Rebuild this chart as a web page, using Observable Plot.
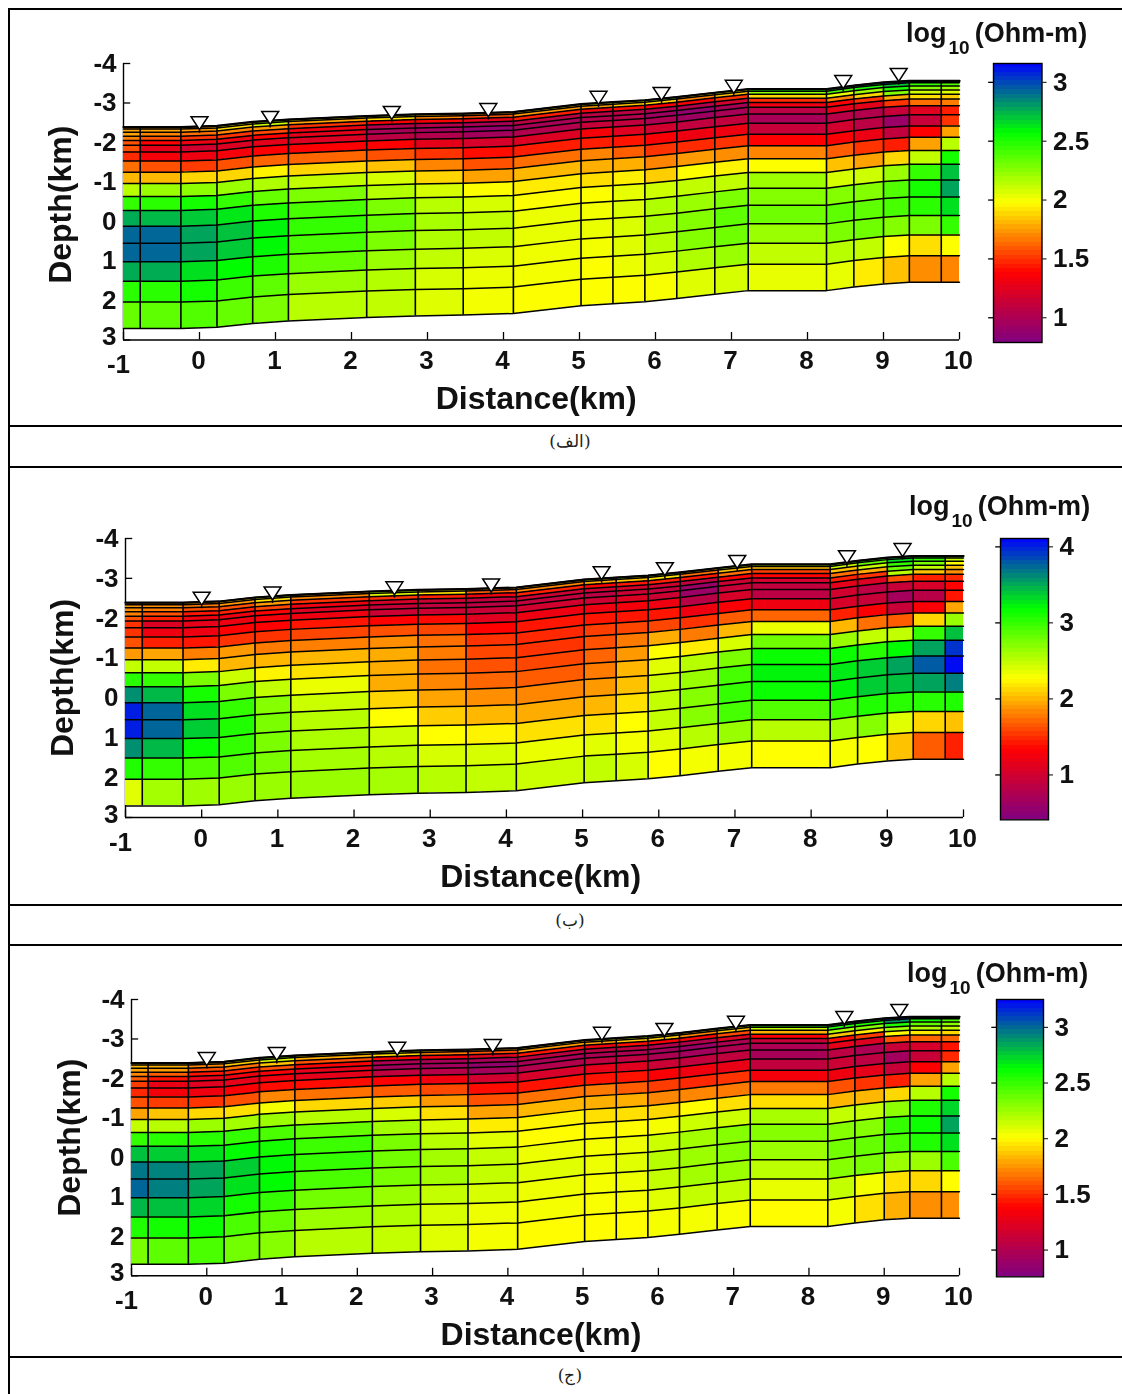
<!DOCTYPE html>
<html><head><meta charset="utf-8">
<script src="https://cdn.jsdelivr.net/npm/d3@7"></script>
<script src="https://cdn.jsdelivr.net/npm/@observablehq/plot@0.6"></script>
<style>
html,body{margin:0;padding:0;background:#fff;}
#page{position:relative;width:1122px;height:1394px;overflow:hidden;font-family:"Liberation Sans",Arial,sans-serif;}
#page svg{position:absolute;background:transparent;overflow:visible;font-family:"Liberation Sans",Arial,sans-serif;filter:blur(0.3px);}
.hl{position:absolute;left:8px;right:0;height:2px;background:#000;}
.vl{position:absolute;left:8px;top:8px;bottom:0;width:2px;background:#000;}
.cap{position:absolute;left:470px;width:200px;text-align:center;font-family:"DejaVu Serif","Liberation Serif",serif;font-size:17px;color:#222;direction:rtl;}
.ttl{position:absolute;font-weight:700;font-size:27px;color:#111;line-height:30px;white-space:nowrap;filter:blur(0.3px);}
.ttl span{font-size:19px;position:relative;top:12px;margin:0 5px 0 2px;}
</style></head><body><div id="page"></div>
<script>
// mesh column edges (km) and surface elevation at each edge (km on the depth axis)
const edges = [-1,-0.78,-0.245,0.23,0.70,1.17,2.20,2.84,3.47,4.13,5.02,5.44,5.86,6.28,6.78,7.22,8.25,8.61,9.0,9.34,9.76,10];
const surface = [-2.39,-2.39,-2.39,-2.42,-2.52,-2.58,-2.67,-2.71,-2.73,-2.77,-2.97,-3.02,-3.07,-3.15,-3.26,-3.35,-3.35,-3.44,-3.52,-3.56,-3.56,-3.56];
// layer boundaries below the surface (km)
const layerDepths = [0,0.05,0.13,0.23,0.34,0.46,0.63,0.86,1.14,1.43,1.76,2.11,2.51,2.94,3.41,3.90,4.43,5.10];
// receiver stations
const stationX = [0,0.93,2.53,3.8,5.25,6.08,7.03,8.47,9.2];
const stationY = [-2.49,-2.62,-2.75,-2.82,-3.13,-3.23,-3.41,-3.53,-3.71];
const xTicks = [-1,0,1,2,3,4,5,6,7,8,9,10];
const yTicks = [-4,-3,-2,-1,0,1,2,3];
const palette = ["#800080","#ff0000","#ffff00","#00ff00","#0000ff"];

// log10 resistivity: one list per mesh column, top layer first
const resistivityA = [
[1.76,1.76,1.76,1.68,1.57,1.57,1.48,1.64,1.81,2.14,2.45,2.76,2.92,2.92,2.76,2.47,2.33],
[1.76,1.76,1.69,1.57,1.38,1.26,1.34,1.57,1.81,2.21,2.47,2.73,2.92,2.92,2.76,2.47,2.35],
[1.74,1.74,1.64,1.50,1.31,1.17,1.31,1.52,1.88,2.24,2.52,2.69,2.78,2.78,2.64,2.52,2.38],
[1.98,1.90,1.69,1.50,1.31,1.22,1.34,1.57,1.88,2.21,2.45,2.62,2.71,2.69,2.57,2.43,2.33],
[2.21,2.09,1.74,1.55,1.38,1.26,1.38,1.62,1.95,2.16,2.33,2.50,2.59,2.58,2.50,2.35,2.28],
[1.98,1.76,1.50,1.31,1.26,1.22,1.38,1.62,1.88,2.12,2.28,2.40,2.45,2.40,2.33,2.21,2.14],
[2.12,1.90,1.38,1.03,0.98,1.07,1.38,1.57,1.83,2.07,2.15,2.28,2.33,2.28,2.21,2.15,2.12],
[1.86,1.69,1.36,1.03,0.96,1.03,1.26,1.50,1.69,1.88,2.07,2.14,2.18,2.16,2.12,2.07,2.05],
[1.74,1.57,1.26,0.98,0.88,0.96,1.19,1.41,1.57,1.76,1.98,2.07,2.12,2.12,2.06,2.02,2.00],
[1.93,1.74,1.45,1.07,0.98,1.03,1.22,1.45,1.64,1.81,1.93,1.98,2.02,2.03,2.01,2.00,1.98],
[2.05,1.74,1.31,1.07,1.03,1.12,1.34,1.45,1.69,1.79,1.90,1.98,2.00,2.02,2.00,1.98,1.98],
[2.12,1.83,1.41,1.07,1.03,1.10,1.24,1.43,1.60,1.79,1.94,2.03,2.06,2.06,2.05,2.02,1.98],
[2.16,1.88,1.36,1.03,0.93,1.00,1.17,1.36,1.50,1.69,1.86,2.09,2.16,2.18,2.14,2.07,1.99],
[1.90,1.69,1.36,1.03,0.88,0.93,1.10,1.31,1.48,1.74,1.98,2.12,2.21,2.26,2.26,2.16,2.05],
[2.12,1.83,1.50,1.17,0.98,0.98,1.10,1.31,1.50,1.71,1.95,2.12,2.28,2.35,2.31,2.21,2.07],
[2.54,2.24,1.88,1.48,1.31,1.07,0.98,1.12,1.38,1.69,1.98,2.20,2.26,2.31,2.21,2.12,2.03],
[2.80,2.40,2.02,1.69,1.38,1.26,1.05,1.17,1.36,1.60,1.83,2.07,2.26,2.35,2.28,2.14,2.03],
[2.80,2.50,2.21,1.88,1.50,1.26,1.03,1.07,1.29,1.50,1.76,2.09,2.26,2.35,2.31,2.12,1.93],
[3.02,2.69,2.50,2.26,1.79,1.50,1.12,0.91,1.10,1.45,1.88,2.21,2.38,2.40,2.26,1.98,1.83],
[2.57,2.45,2.26,2.09,1.90,1.64,1.24,1.12,1.38,1.76,2.12,2.45,2.52,2.47,2.28,1.90,1.71],
[2.50,2.38,2.21,2.05,1.86,1.67,1.45,1.50,1.76,2.14,2.52,2.71,2.78,2.64,2.45,1.98,1.69]
];
const resistivityB = [
[1.85,1.85,1.85,1.80,1.63,1.52,1.52,1.63,1.89,2.48,3.04,3.59,4.00,4.00,3.59,3.07,2.37],
[1.89,1.85,1.78,1.63,1.45,1.08,1.22,1.45,1.93,2.48,3.00,3.44,3.74,3.74,3.44,3.00,2.59],
[1.89,1.78,1.63,1.41,1.22,1.15,1.22,1.41,1.80,2.19,2.74,3.11,3.30,3.37,3.15,2.89,2.61],
[2.08,1.89,1.63,1.45,1.22,1.22,1.34,1.52,1.89,2.00,2.45,2.74,3.00,3.07,3.00,2.89,2.63],
[2.45,2.15,1.89,1.59,1.34,1.26,1.34,1.52,1.78,2.00,2.22,2.48,2.70,2.74,2.74,2.74,2.63],
[1.96,1.82,1.52,1.22,1.08,1.22,1.41,1.59,1.80,2.00,2.15,2.33,2.45,2.52,2.56,2.59,2.63],
[2.56,2.37,1.52,1.04,0.93,0.97,1.34,1.63,1.85,1.96,1.96,1.96,2.11,2.26,2.45,2.52,2.59],
[2.15,2.15,1.45,0.97,0.89,0.97,1.37,1.59,1.74,1.78,1.74,1.82,1.93,2.08,2.26,2.41,2.52],
[1.89,1.67,1.22,0.89,0.85,0.93,1.11,1.34,1.52,1.59,1.63,1.70,1.85,2.00,2.22,2.41,2.48],
[1.96,1.82,1.45,0.97,0.89,1.00,1.22,1.41,1.48,1.52,1.59,1.67,1.82,1.96,2.15,2.33,2.45],
[2.45,1.96,1.34,0.97,0.85,0.97,1.22,1.41,1.56,1.63,1.70,1.78,1.89,2.00,2.15,2.37,2.48],
[2.48,2.04,1.41,1.04,0.97,1.08,1.26,1.41,1.59,1.78,1.89,2.00,2.04,2.15,2.26,2.30,2.41],
[2.56,2.15,1.45,1.00,0.89,0.97,1.22,1.41,1.59,1.96,2.26,2.37,2.45,2.48,2.48,2.37,2.26],
[1.96,1.74,1.41,0.89,0.60,0.60,0.82,1.22,1.52,1.78,2.19,2.52,2.63,2.70,2.70,2.52,2.30],
[2.52,2.04,1.74,1.34,0.97,0.93,1.04,1.30,1.67,2.00,2.41,2.74,2.93,3.00,2.93,2.63,2.30],
[2.56,2.04,1.56,1.34,1.00,0.89,0.85,1.22,1.70,2.33,2.78,3.15,3.22,3.15,2.89,2.52,2.26],
[2.93,2.45,2.04,1.74,1.45,1.15,1.00,1.04,1.45,2.00,2.63,3.15,3.26,3.22,2.96,2.59,2.28],
[3.07,2.81,2.45,1.96,1.52,1.08,0.85,0.93,1.30,1.74,2.48,3.04,3.37,3.37,3.07,2.70,2.26],
[3.37,3.30,3.00,2.81,2.52,1.63,0.93,0.67,0.93,1.67,2.48,3.19,3.52,3.41,3.04,2.37,2.04],
[3.07,3.00,2.74,2.48,2.04,1.45,1.04,0.82,1.30,2.11,3.00,3.52,3.78,3.52,3.04,2.11,1.67],
[2.63,2.45,2.26,2.04,1.85,1.48,1.34,1.41,1.93,2.63,3.41,3.93,4.07,3.65,3.07,2.04,1.45]
];
const resistivityC = [
[1.86,1.83,1.78,1.71,1.61,1.53,1.48,1.58,1.78,2.15,2.50,2.78,2.96,3.00,2.80,2.55,2.33],
[1.86,1.81,1.76,1.61,1.43,1.28,1.33,1.53,1.86,2.18,2.53,2.75,2.93,2.94,2.78,2.58,2.40],
[1.81,1.71,1.58,1.43,1.26,1.23,1.31,1.51,1.91,2.25,2.53,2.70,2.85,2.85,2.73,2.60,2.45],
[2.00,1.88,1.66,1.46,1.31,1.26,1.36,1.58,1.93,2.23,2.50,2.63,2.75,2.70,2.58,2.45,2.35],
[2.25,2.10,1.86,1.58,1.36,1.31,1.41,1.71,2.03,2.25,2.45,2.58,2.64,2.63,2.50,2.38,2.30],
[2.00,1.81,1.58,1.36,1.26,1.26,1.41,1.66,1.91,2.18,2.38,2.48,2.50,2.45,2.35,2.25,2.18],
[2.15,1.91,1.38,0.98,0.93,1.08,1.38,1.61,1.88,2.10,2.23,2.33,2.35,2.33,2.25,2.20,2.15],
[1.86,1.68,1.33,0.96,0.93,1.03,1.31,1.56,1.76,1.93,2.10,2.18,2.23,2.23,2.15,2.10,2.08],
[1.76,1.58,1.23,0.96,0.86,0.93,1.16,1.41,1.58,1.78,1.96,2.08,2.15,2.15,2.10,2.05,2.03],
[1.96,1.76,1.43,1.06,0.96,1.01,1.18,1.43,1.66,1.83,1.98,2.00,2.05,2.08,2.05,2.03,2.00],
[2.13,1.78,1.31,1.06,0.98,1.06,1.26,1.43,1.68,1.81,1.93,1.99,2.03,2.05,2.03,2.02,2.00],
[2.18,1.86,1.41,1.06,0.98,1.06,1.23,1.43,1.61,1.81,1.93,2.00,2.05,2.08,2.05,2.03,2.00],
[2.20,1.88,1.36,1.01,0.93,0.98,1.13,1.36,1.53,1.71,1.91,2.03,2.13,2.18,2.15,2.08,2.03],
[1.93,1.71,1.36,1.01,0.88,0.93,1.08,1.31,1.48,1.71,2.00,2.13,2.23,2.25,2.23,2.15,2.03],
[2.20,1.86,1.56,1.21,0.98,0.98,1.08,1.28,1.51,1.68,1.93,2.13,2.30,2.30,2.25,2.15,2.02],
[2.55,2.15,1.81,1.38,1.11,0.98,0.96,1.08,1.33,1.68,1.93,2.22,2.30,2.25,2.17,2.06,2.00],
[2.88,2.55,2.20,1.86,1.41,1.26,1.06,1.13,1.31,1.58,1.83,2.15,2.30,2.35,2.30,2.15,2.03],
[3.00,2.55,2.30,1.96,1.53,1.21,0.98,1.06,1.26,1.51,1.83,2.15,2.30,2.38,2.33,2.03,1.93],
[3.13,2.88,2.55,2.25,2.00,1.58,1.11,0.93,1.11,1.46,1.91,2.28,2.50,2.45,2.25,1.93,1.81],
[2.75,2.60,2.40,2.20,1.96,1.63,1.18,1.11,1.38,1.78,2.18,2.55,2.60,2.55,2.25,1.91,1.73],
[2.55,2.45,2.30,2.15,1.91,1.63,1.43,1.48,1.78,2.18,2.58,2.73,2.85,2.70,2.45,2.00,1.73]
];
const scaleA = {lo:0.79, hi:3.16, ticks:[1,1.5,2,2.5,3]};
const scaleB = {lo:0.41, hi:4.11, ticks:[1,2,3,4]};
const scaleC = {lo:0.76, hi:3.25, ticks:[1,1.5,2,2.5,3]};

const page = document.getElementById("page");
function colorScale(s){
  const d = s.hi - s.lo;
  return {type:"linear", domain:[s.lo, s.lo+d*.25, s.lo+d*.5, s.lo+d*.75, s.hi], range:palette, clamp:true};
}
const inverted = {draw(c,size){const r=Math.sqrt(size/Math.PI);
  c.moveTo(-1.3*r,-r);c.lineTo(1.3*r,-r);c.lineTo(0,r);c.closePath();c.moveTo(0,r);c.lineTo(0,r+3);}};

function place(svg,left,top){svg.style.left=left+"px";svg.style.top=top+"px";page.appendChild(svg);}

function panel(o){
  const cells=[], lines=[];
  o.values.forEach((col,i)=>col.forEach((v,k)=>{
    const id=i+"-"+k;
    for(const j of [i,i+1]) cells.push({id,v,x:edges[j],y1:surface[j]+layerDepths[k],y2:surface[j]+layerDepths[k+1]});
  }));
  layerDepths.forEach((d,k)=>edges.forEach((x,j)=>lines.push({k,x,y:surface[j]+d})));
  const inner=edges.map((x,j)=>({x,y1:surface[j],y2:surface[j]+layerDepths[layerDepths.length-1]})).slice(1,-1);
  const stations=stationX.map((x,i)=>({x,y:stationY[i]}));
  const top=o.y0-54, H=o.y1-top+86;
  const svg=Plot.plot({
    width:1122,height:H,
    marginLeft:o.x0,marginRight:1122-o.x1,marginTop:o.y0-top,marginBottom:top+H-o.y1,
    x:{domain:[-1,10]},
    y:{domain:[3,-4]},
    color:colorScale(o.scale),
    style:{background:"transparent"},
    marks:[
      Plot.ruleX([-1],{y1:-4,y2:3,stroke:"#000",strokeWidth:1.4}),
      Plot.ruleY([3],{x1:-1,x2:10,stroke:"#000",strokeWidth:1.4}),
      Plot.ruleY(yTicks,{x1:-1,x2:-0.905,stroke:"#000",strokeWidth:1.3}),
      Plot.ruleX(xTicks,{y1:3,y2:2.81,stroke:"#000",strokeWidth:1.3}),
      Plot.areaY(cells,{x:"x",y1:"y1",y2:"y2",z:"id",fill:"v",shapeRendering:"crispEdges"}),
      Plot.line(lines,{x:"x",y:"y",z:"k",stroke:"#000",strokeWidth:1.5}),
      Plot.line(lines.filter(d=>d.k===0),{x:"x",y:"y",stroke:"#000",strokeWidth:2.2}),
      Plot.ruleX(inner,{x:"x",y1:"y1",y2:"y2",stroke:"#000",strokeWidth:1.6}),
      Plot.dot(stations,{x:"x",y:"y",symbol:inverted,r:6.5,fill:"#fff",stroke:"#000",strokeWidth:1.5}),
      Plot.axisX({ticks:xTicks.slice(1),tickSize:0,tickPadding:11,dx:-1,fontSize:26,fontWeight:700,tickFormat:d=>String(d),label:null,anchor:"bottom",fill:"#111"}),
      Plot.text([-1],{x:d=>d,y:3,dx:-5,dy:25,text:d=>String(d),fontSize:26,fontWeight:700,fill:"#111"}),
      Plot.axisY({ticks:yTicks.slice(0,-1),tickSize:0,tickPadding:7,fontSize:26,fontWeight:700,tickFormat:d=>String(d),label:null,anchor:"left",fill:"#111"}),
      Plot.text([3],{x:-1,y:d=>d,dx:-7,dy:-3,textAnchor:"end",text:d=>String(d),fontSize:26,fontWeight:700,fill:"#111"}),
      Plot.text(["Distance(km)"],{x:o.labelX,y:3,dy:59,text:d=>d,fontSize:32,fontWeight:700,fill:"#111"}),
      Plot.text(["Depth(km)"],{frameAnchor:"left",textAnchor:"middle",dx:o.depthX-o.x0,dy:o.depthDy,rotate:-90,text:d=>d,fontSize:32,fontWeight:700,fill:"#111"})
    ]
  });
  place(svg,0,top);

  // colour bar
  const s=o.scale, steps=d3.range(64).map(i=>({a:s.lo+i/64*(s.hi-s.lo),b:s.lo+(i+1)/64*(s.hi-s.lo),v:s.lo+(i+.5)/64*(s.hi-s.lo)}));
  const bw=o.barX1-o.barX0, pad=12;
  const bar=Plot.plot({
    width:bw+pad+70,height:o.barY1-o.barY0+2*pad,
    marginLeft:pad,marginRight:70,marginTop:pad,marginBottom:pad,
    x:{domain:[0,1],axis:null},
    y:{domain:[s.lo,s.hi]},
    color:colorScale(s),
    style:{background:"transparent"},
    marks:[
      Plot.rect(steps,{x1:0,x2:1,y1:"a",y2:"b",fill:"v",shapeRendering:"crispEdges"}),
      Plot.frame({stroke:"#000",strokeWidth:1.4}),
      Plot.ruleY(s.ticks,{x1:-0.1,x2:0,stroke:"#000",strokeWidth:1.3}),
      Plot.axisY({ticks:s.ticks,anchor:"right",tickSize:4,tickPadding:7,fontSize:26,fontWeight:700,tickFormat:d=>String(d),label:null,fill:"#111"})
    ]
  });
  place(bar,o.barX0-pad,o.barY0-pad);

  const t=document.createElement("div");t.className="ttl";
  t.style.left=o.titleX+"px";t.style.top=o.titleY+"px";
  t.innerHTML="log<span>10</span>(Ohm-m)";
  page.appendChild(t);
}

panel({values:resistivityA,scale:scaleA,x0:123,x1:959,y0:62.5,y1:339,labelX:4.43,depthX:60,depthDy:3,
  barX0:993,barX1:1041.5,barY0:62.5,barY1:341.5,titleX:906,titleY:18});
panel({values:resistivityB,scale:scaleB,x0:125,x1:963,y0:537.7,y1:816.7,labelX:4.45,depthX:62,depthDy:0,
  barX0:1000,barX1:1048,barY0:537.7,barY1:819,titleX:909,titleY:491});
panel({values:resistivityC,scale:scaleC,x0:131,x1:959,y0:998.7,y1:1275,labelX:4.44,depthX:69,depthDy:0,
  barX0:996,barX1:1043,barY0:998.7,barY1:1276,titleX:907,titleY:958});

for(const y of [8,425,466,904,944,1356]){const d=document.createElement("div");d.className="hl";d.style.top=y+"px";page.appendChild(d);}
const v=document.createElement("div");v.className="vl";page.appendChild(v);
[["(الف)",431],["(ب)",910],["(ج)",1365]].forEach(([txt,y])=>{const d=document.createElement("div");d.className="cap";d.style.top=y+"px";d.textContent=txt;page.appendChild(d);});
</script></body></html>
